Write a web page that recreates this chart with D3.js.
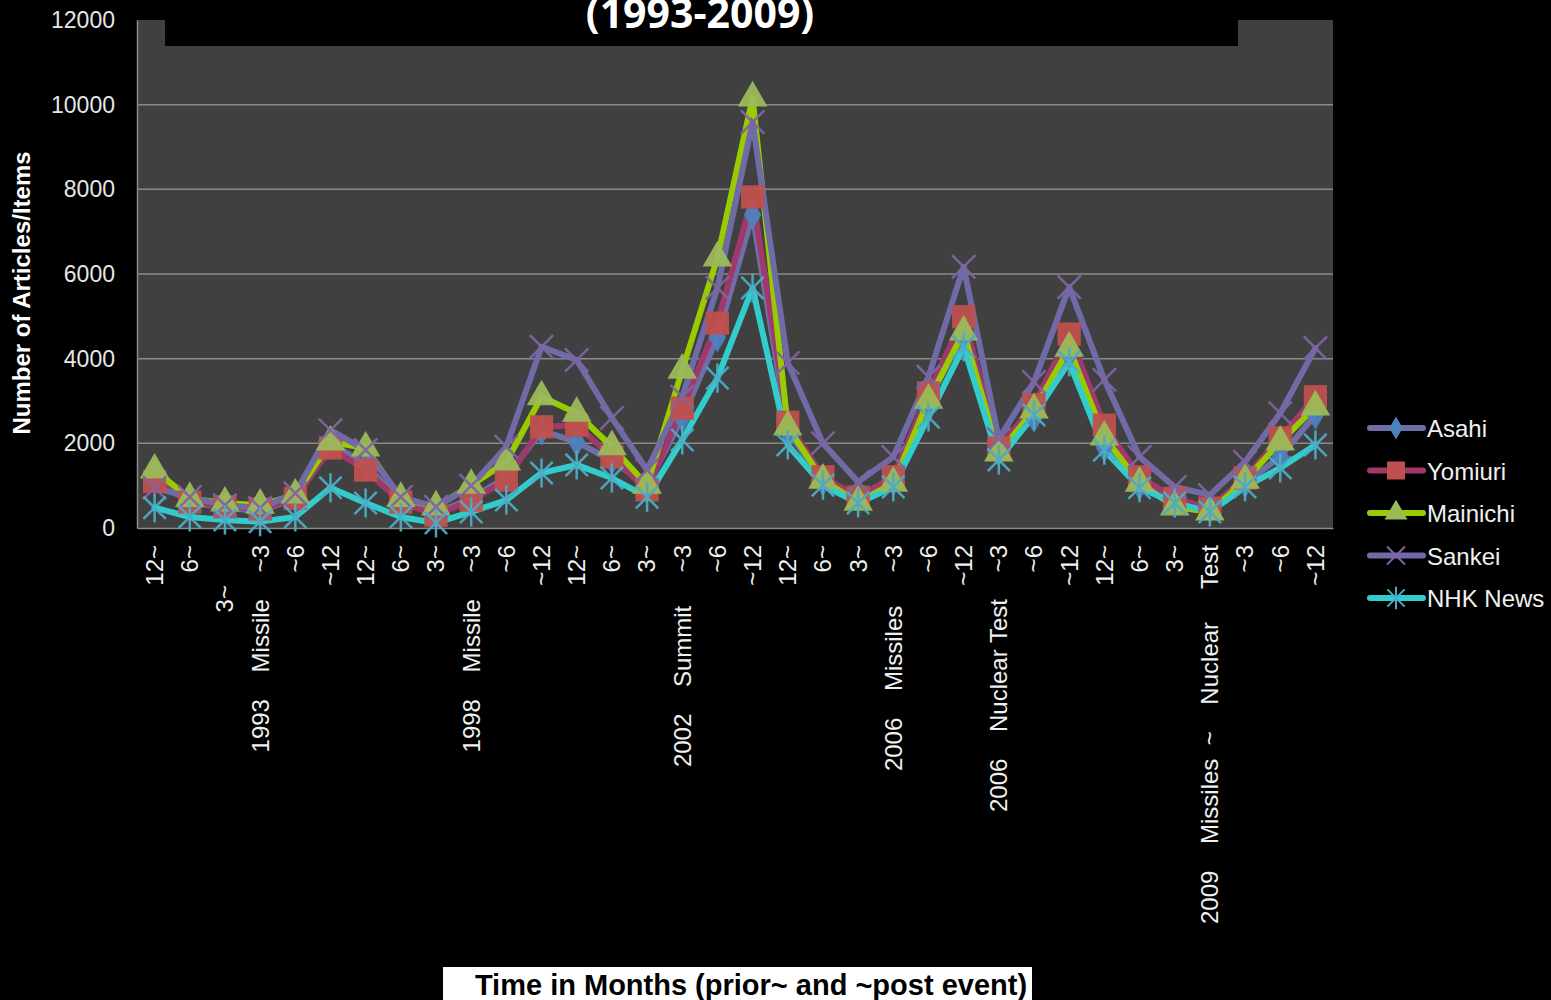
<!DOCTYPE html>
<html>
<head>
<meta charset="utf-8">
<script src="https://cdn.jsdelivr.net/npm/d3@7"></script>
<style>
  body { margin: 0; background: #000; }
  text { font-family: "Liberation Sans", Arial, sans-serif; }
</style>
</head>
<body>
<div id="d3-container"></div>
<script>
// Category labels (months prior~ / ~post each event)
const categories = [
  "12~", "6~", "3~      ", "1993    Missile    ~3", "~6", "~12",
  "12~", "6~", "3~", "1998    Missile    ~3", "~6", "~12",
  "12~", "6~", "3~", "2002    Summit     ~3", "~6", "~12",
  "12~", "6~", "3~", "2006    Missiles     ~3", "~6", "~12",
  "2006    Nuclear Test    ~3", "~6", "~12",
  "12~", "6~", "3~", "2009    Missiles  ~    Nuclear     Test", "~3", "~6", "~12"
];

// Series values
const asahi = [1300, 600, 480, 400, 700, 2000, 1500, 600, 350, 700, 1200, 2300, 2030, 1600, 1000, 2600, 4500, 7400, 2300, 1100, 700, 1100, 3000, 4600, 1800, 2600, 4100, 1900, 1000, 600, 450, 1050, 1690, 2670];
const yomiuri = [1100, 610, 500, 450, 700, 1890, 1370, 610, 300, 660, 1130, 2390, 2430, 1680, 900, 2830, 4840, 7820, 2500, 1210, 730, 1210, 3190, 4990, 1890, 2910, 4580, 2430, 1210, 700, 470, 1180, 2130, 3100];
const mainichi = [1370, 700, 590, 540, 780, 2030, 1890, 700, 500, 1010, 1560, 3100, 2710, 1920, 1010, 3730, 6380, 10160, 2390, 1130, 610, 1060, 3020, 4630, 1770, 2790, 4250, 2150, 1060, 500, 380, 1130, 2030, 2860];
const sankei = [950, 730, 540, 470, 820, 2310, 1840, 730, 500, 1000, 1920, 4280, 3970, 2600, 1370, 3100, 5670, 9590, 3900, 2000, 1090, 1680, 3570, 6170, 2100, 3450, 5690, 3500, 1680, 970, 780, 1560, 2710, 4250];
const nhk = [480, 260, 190, 150, 260, 950, 590, 260, 120, 380, 660, 1300, 1490, 1180, 730, 2080, 3540, 5670, 1960, 1010, 590, 970, 2620, 4280, 1610, 2670, 3920, 1840, 950, 590, 380, 970, 1420, 1960];

const seriesNames = ["Asahi", "Yomiuri", "Mainichi", "Sankei", "NHK News"];
const yTicks = [0, 2000, 4000, 6000, 8000, 10000, 12000];

// custom marker shapes for d3.symbol
const crossX = {
  draw(ctx, size) {
    const r = Math.sqrt(size) / 2;
    ctx.moveTo(-r, -r); ctx.lineTo(r, r);
    ctx.moveTo(r, -r); ctx.lineTo(-r, r);
  }
};
const star = {
  draw(ctx, size) {
    const r = Math.sqrt(size) / 2;
    ctx.moveTo(-r, -r); ctx.lineTo(r, r);
    ctx.moveTo(r, -r); ctx.lineTo(-r, r);
    ctx.moveTo(0, -r * 1.3); ctx.lineTo(0, r * 1.3);
  }
};

const series = [
  { name: seriesNames[0], values: asahi, line: "#6f6fa8", marker: "#4f81bd", shape: d3.symbolDiamond, size: 260, stroke: false },
  { name: seriesNames[1], values: yomiuri, line: "#a0386c", marker: "#c0504d", shape: d3.symbolSquare, size: 540, stroke: false },
  { name: seriesNames[2], values: mainichi, line: "#99cc00", marker: "#9bbb59", shape: d3.symbolTriangle, size: 380, stroke: false },
  { name: seriesNames[3], values: sankei, line: "#6e6ba6", marker: "#8064a2", shape: crossX, size: 540, stroke: true },
  { name: seriesNames[4], values: nhk, line: "#33cccc", marker: "#4bacc6", shape: star, size: 500, stroke: true }
];

// Chart dimensions
const width = 1551;
const height = 1000;
const plot = { left: 137, right: 1333, top: 20, bottom: 528 };

const svg = d3
  .select("#d3-container")
  .append("svg")
  .attr("width", width)
  .attr("height", height)
  .style("background", "#000");

// plot background
svg.append("rect")
  .attr("x", plot.left)
  .attr("y", plot.top)
  .attr("width", plot.right - plot.left)
  .attr("height", plot.bottom - plot.top)
  .attr("fill", "#404040");

// X scale
const xScale = d3
  .scaleBand()
  .domain(d3.range(categories.length))
  .range([plot.left, plot.right]);
const xPos = (i) => xScale(i) + xScale.bandwidth() / 2;

// Y scale
const yScale = d3
  .scaleLinear()
  .domain([0, 12000])
  .range([plot.bottom, plot.top]);

// gridlines
svg.append("g")
  .selectAll("line")
  .data(yTicks.filter((t) => t > 0 && t < 12000))
  .enter()
  .append("line")
  .attr("x1", plot.left)
  .attr("x2", plot.right)
  .attr("y1", (d) => yScale(d))
  .attr("y2", (d) => yScale(d))
  .attr("stroke", "#8a8a8a")
  .attr("stroke-width", 1.5);

// Y axis
const yAxis = d3.axisLeft(yScale)
  .tickValues(yTicks)
  .tickFormat(d3.format("d"))
  .tickSize(0)
  .tickPadding(22);
const yG = svg.append("g")
  .attr("transform", `translate(${plot.left}, 0)`)
  .call(yAxis);
yG.select(".domain").attr("stroke", "#8a8a8a").attr("stroke-width", 1.5);
yG.selectAll("text")
  .attr("fill", "#e6e6e6")
  .style("font-size", "23px");

// X axis
const xAxis = d3.axisBottom(xScale).tickSize(0).tickFormat((i) => categories[i]);
const xG = svg.append("g")
  .attr("transform", `translate(0, ${plot.bottom})`)
  .call(xAxis);
xG.select(".domain").attr("stroke", "#8a8a8a").attr("stroke-width", 1.5);
xG.selectAll("text")
  .attr("fill", "#f0f0f0")
  .style("font-size", "24px")
  .style("white-space", "pre")
  .attr("text-anchor", "end")
  .attr("transform", "rotate(-90)")
  .attr("x", -17)
  .attr("y", 0)
  .attr("dy", "0.35em");

// lines
const line = d3.line()
  .x((d, i) => xPos(i))
  .y((d) => yScale(d));

svg.append("g")
  .selectAll("path")
  .data(series)
  .enter()
  .append("path")
  .attr("d", (s) => line(s.values))
  .attr("fill", "none")
  .attr("stroke", (s) => s.line)
  .attr("stroke-width", 6)
  .attr("stroke-linejoin", "round")
  .attr("stroke-linecap", "round");

// markers
series.forEach((s) => {
  const sym = d3.symbol().type(s.shape).size(s.size);
  svg.append("g")
    .selectAll("path")
    .data(s.values)
    .enter()
    .append("path")
    .attr("transform", (d, i) => `translate(${xPos(i)}, ${yScale(d)})`)
    .attr("d", sym)
    .attr("fill", s.stroke ? "none" : s.marker)
    .attr("stroke", s.stroke ? s.marker : "none")
    .attr("stroke-width", 2.5)
    .attr("opacity", 0.95);
});

// black box over top of plot + title
svg.append("rect")
  .attr("x", 165)
  .attr("y", 0)
  .attr("width", 1238 - 165)
  .attr("height", 46)
  .attr("fill", "#000");

svg.append("text")
  .attr("x", 700)
  .attr("y", 28)
  .attr("text-anchor", "middle")
  .style("font-family", "'Open Sans', 'Noto Sans', sans-serif")
  .style("font-weight", "bold")
  .style("font-size", "41px")
  .attr("fill", "#fff")
  .text("(1993-2009)");

// Y axis title
svg.append("text")
  .attr("transform", "translate(30, 293) rotate(-90)")
  .attr("text-anchor", "middle")
  .style("font-weight", "bold")
  .style("font-size", "24px")
  .attr("fill", "#fff")
  .text("Number of Articles/Items");

// X axis title on white strip
svg.append("rect")
  .attr("x", 443)
  .attr("y", 967)
  .attr("width", 1032 - 443)
  .attr("height", 33)
  .attr("fill", "#fff");

svg.append("text")
  .attr("x", 751)
  .attr("y", 995)
  .attr("text-anchor", "middle")
  .style("font-weight", "bold")
  .style("font-size", "29px")
  .attr("fill", "#000")
  .text("Time in Months (prior~ and ~post event)");

// legend
const legend = svg.append("g")
  .attr("transform", "translate(1368, 428)");

const legendItem = legend
  .selectAll(".legend-item")
  .data(series)
  .enter()
  .append("g")
  .attr("class", "legend-item")
  .attr("transform", (d, i) => `translate(0, ${i * 42.5})`);

legendItem.append("line")
  .attr("x1", 2)
  .attr("x2", 55)
  .attr("stroke", (s) => s.line)
  .attr("stroke-width", 6)
  .attr("stroke-linecap", "round");

legendItem.append("path")
  .attr("transform", "translate(28, 0)")
  .attr("d", (s) => d3.symbol().type(s.shape).size(s.size * 0.6)())
  .attr("fill", (s) => s.stroke ? "none" : s.marker)
  .attr("stroke", (s) => s.stroke ? s.marker : "none")
  .attr("stroke-width", 2);

legendItem.append("text")
  .attr("x", 59)
  .attr("y", 9)
  .attr("fill", "#f0f0f0")
  .style("font-size", "24px")
  .text((s) => s.name);
</script>
</body>
</html>
